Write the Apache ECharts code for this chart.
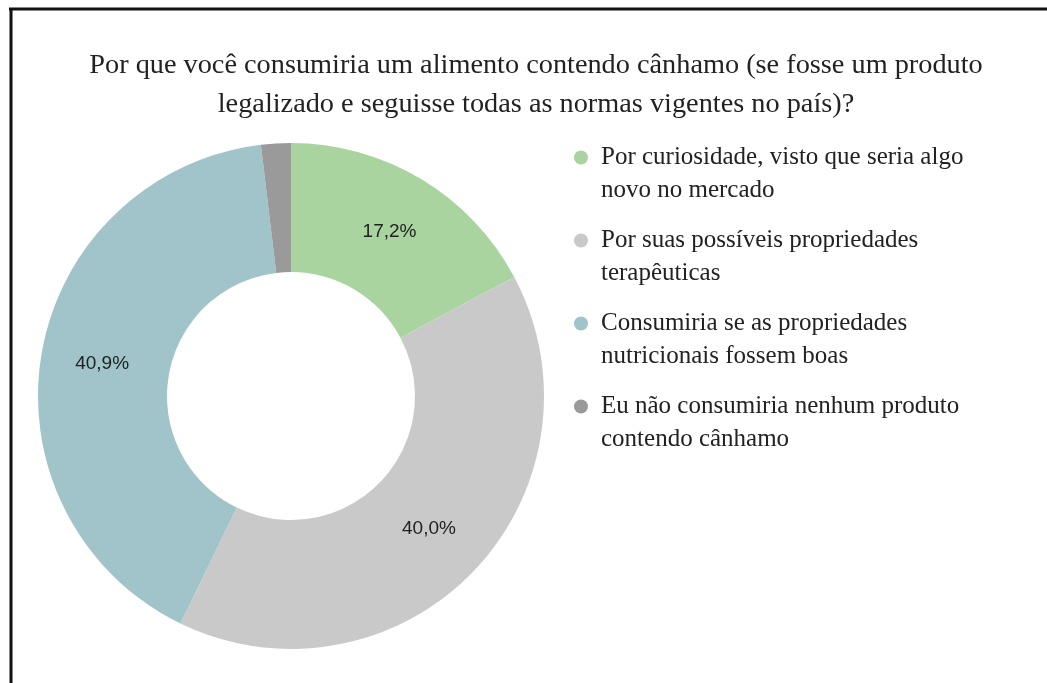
<!DOCTYPE html>
<html>
<head>
<meta charset="utf-8">
<script src="https://cdn.jsdelivr.net/npm/echarts@6/dist/echarts.min.js"></script>
<style>
  html, body { margin: 0; padding: 0; background: #fff; }
  #chart { width: 1047px; height: 683px; }
</style>
</head>
<body>
<div id="chart"></div>
<script>
// Survey answers (share of respondents, %)
const categories = [
  'Por curiosidade, visto que seria algo\nnovo no mercado',
  'Por suas possíveis propriedades\nterapêuticas',
  'Consumiria se as propriedades\nnutricionais fossem boas',
  'Eu não consumiria nenhum produto\ncontendo cânhamo'
];
const shares = [17.2, 40.0, 40.9, 1.9];
const showLabel = [true, true, true, false];
const colors = ['#a9d4a0', '#c9c9c9', '#a0c4ca', '#9a9a9a'];

const titleText = 'Por que você consumiria um alimento contendo cânhamo (se fosse um produto\nlegalizado e seguisse todas as normas vigentes no país)?';

const chart = echarts.init(document.getElementById('chart'), null, { renderer: 'canvas' });

const data = categories.map((name, i) => ({
  name: name,
  value: shares[i],
  label: { show: showLabel[i] }
}));

chart.setOption({
  animation: false,
  backgroundColor: '#ffffff',
  color: colors,
  title: {
    text: titleText,
    left: 531,
    top: 41,
    textAlign: 'center',
    textStyle: {
      fontFamily: 'Liberation Serif',
      fontWeight: 'normal',
      fontSize: 28.3,
      lineHeight: 39,
      color: '#222222'
    }
  },
  legend: {
    orient: 'vertical',
    left: 569,
    top: 103,
    icon: 'circle',
    itemWidth: 14,
    itemHeight: 14,
    itemGap: -16,
    selectedMode: false,
    // a leading blank line keeps the marker level with the first text line
    formatter: name => '\n' + name,
    textStyle: {
      fontFamily: 'Liberation Serif',
      fontSize: 25,
      lineHeight: 33,
      color: '#222222',
      padding: [0, 0, 0, 8]
    }
  },
  graphic: [
    {
      type: 'line',
      shape: { x1: 9, y1: 9, x2: 1047, y2: 9 },
      style: { stroke: '#111111', lineWidth: 3 }
    },
    {
      type: 'line',
      shape: { x1: 11, y1: 8, x2: 11, y2: 683 },
      style: { stroke: '#111111', lineWidth: 3 }
    }
  ],
  series: [
    {
      type: 'pie',
      center: [291, 396],
      radius: [124, 253],
      startAngle: 90,
      clockwise: true,
      avoidLabelOverlap: false,
      label: {
        position: 'inside',
        fontFamily: 'Liberation Sans',
        fontSize: 19,
        color: '#222222',
        formatter: p => p.value.toFixed(1).replace('.', ',') + '%'
      },
      labelLine: { show: false },
      emphasis: { disabled: true },
      data: data
    }
  ]
});
</script>
</body>
</html>
